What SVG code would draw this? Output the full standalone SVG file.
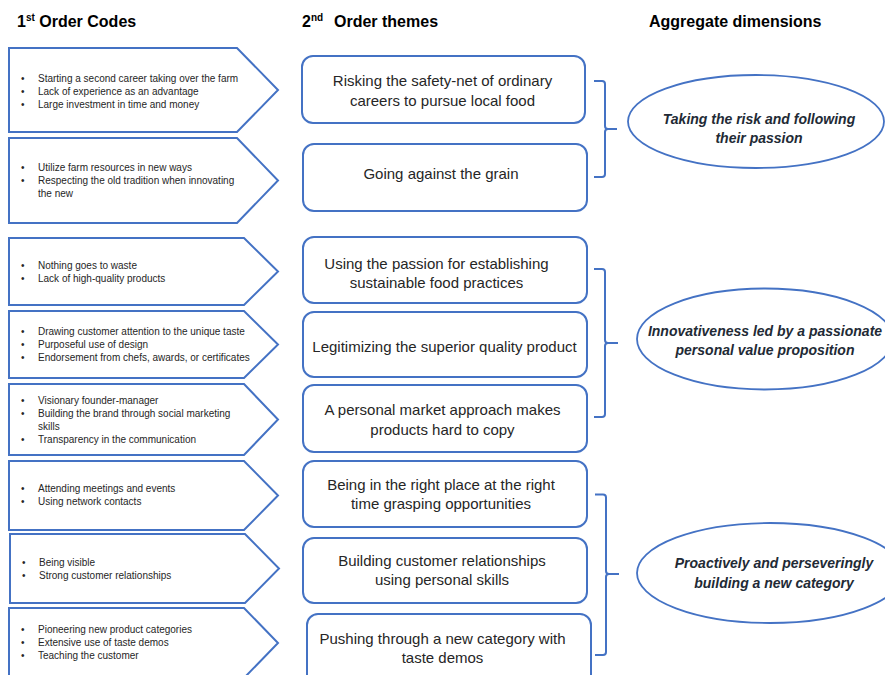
<svg xmlns="http://www.w3.org/2000/svg" width="885" height="675" viewBox="0 0 885 675">
<style>
.hdr{font-family:"Liberation Sans",Arial,sans-serif;font-weight:bold;font-size:16px;fill:#000}
.sup{font-size:10px}
.pent{fill:#fff;stroke:#4472C4;stroke-width:2}
.code{font-family:"Liberation Sans",Arial,sans-serif;font-size:10px;fill:#262626}
.box{fill:#fff;stroke:#4472C4;stroke-width:2}
.theme{font-family:"Liberation Sans",Arial,sans-serif;font-size:15px;fill:#262626;text-anchor:middle}
.ell{fill:#fff;stroke:#4472C4;stroke-width:1.8}
.dim{font-family:"Liberation Sans",Arial,sans-serif;font-size:14px;font-weight:bold;font-style:italic;fill:#222a35;text-anchor:middle}
.br{fill:none;stroke:#4472C4;stroke-width:2}
</style>
<rect width="885" height="675" fill="#fff"/>
<g id="headers">
<text class="hdr" x="17" y="27">1<tspan class="sup" dy="-6">st</tspan><tspan dy="6"> Order Codes</tspan></text>
<text class="hdr" x="302" y="27">2<tspan class="sup" dy="-6">nd</tspan><tspan x="334" dy="6">Order themes</tspan></text>
<text class="hdr" x="649" y="27">Aggregate dimensions</text>
</g>
<g id="code1">
<path class="pent" d="M9,48 H237 L278,90 L237,132 H9 Z"/>
<text class="code"><tspan x="21" y="82">•</tspan><tspan x="38" y="82">Starting a second career taking over the farm</tspan><tspan x="21" y="95">•</tspan><tspan x="38" y="95">Lack of experience as an advantage</tspan><tspan x="21" y="108">•</tspan><tspan x="38" y="108">Large investment in time and money</tspan></text>
</g>
<g id="code2">
<path class="pent" d="M9,138 H237 L278,180.5 L237,223 H9 Z"/>
<text class="code"><tspan x="21" y="171">•</tspan><tspan x="38" y="171">Utilize farm resources in new ways</tspan><tspan x="21" y="184">•</tspan><tspan x="38" y="184">Respecting the old tradition when innovating</tspan><tspan x="38" y="197">the new</tspan></text>
</g>
<g id="code3">
<path class="pent" d="M9,238 H244 L278,271.5 L244,305 H9 Z"/>
<text class="code"><tspan x="21" y="269">•</tspan><tspan x="38" y="269">Nothing goes to waste</tspan><tspan x="21" y="282">•</tspan><tspan x="38" y="282">Lack of high-quality products</tspan></text>
</g>
<g id="code4">
<path class="pent" d="M9,311 H244 L278,344.5 L244,378 H9 Z"/>
<text class="code"><tspan x="21" y="334.5">•</tspan><tspan x="38" y="334.5">Drawing customer attention to the unique taste</tspan><tspan x="21" y="347.5">•</tspan><tspan x="38" y="347.5">Purposeful use of design</tspan><tspan x="21" y="360.5">•</tspan><tspan x="38" y="360.5">Endorsement from chefs, awards, or certificates</tspan></text>
</g>
<g id="code5">
<path class="pent" d="M9,384 H244 L278,419.5 L244,455 H9 Z"/>
<text class="code"><tspan x="21" y="404">•</tspan><tspan x="38" y="404">Visionary founder-manager</tspan><tspan x="21" y="417">•</tspan><tspan x="38" y="417">Building the brand through social marketing</tspan><tspan x="38" y="430">skills</tspan><tspan x="21" y="443">•</tspan><tspan x="38" y="443">Transparency in the communication</tspan></text>
</g>
<g id="code6">
<path class="pent" d="M9,461 H244 L278,495.5 L244,530 H9 Z"/>
<text class="code"><tspan x="21" y="492">•</tspan><tspan x="38" y="492">Attending meetings and events</tspan><tspan x="21" y="505">•</tspan><tspan x="38" y="505">Using network contacts</tspan></text>
</g>
<g id="code7">
<path class="pent" d="M10,534 H245 L279,568.5 L245,603 H10 Z"/>
<text class="code"><tspan x="22" y="566">•</tspan><tspan x="39" y="566">Being visible</tspan><tspan x="22" y="579">•</tspan><tspan x="39" y="579">Strong customer relationships</tspan></text>
</g>
<g id="code8">
<path class="pent" d="M9,608 H244 L278,643 L244,678 H9 Z"/>
<text class="code"><tspan x="21" y="632.5">•</tspan><tspan x="38" y="632.5">Pioneering new product categories</tspan><tspan x="21" y="645.5">•</tspan><tspan x="38" y="645.5">Extensive use of taste demos</tspan><tspan x="21" y="658.5">•</tspan><tspan x="38" y="658.5">Teaching the customer</tspan></text>
</g>
<g id="theme1">
<rect class="box" x="302" y="56" width="283" height="67" rx="11"/>
<text class="theme"><tspan x="442.5" y="86">Risking the safety-net of ordinary</tspan><tspan x="442.5" y="105.5">careers to pursue local food</tspan></text>
</g>
<g id="theme2">
<rect class="box" x="303" y="144" width="284" height="67" rx="11"/>
<text class="theme"><tspan x="441" y="179">Going against the grain</tspan></text>
</g>
<g id="theme3">
<rect class="box" x="303" y="237" width="284" height="66" rx="11"/>
<text class="theme"><tspan x="436.5" y="268.5">Using the passion for establishing</tspan><tspan x="436.5" y="287.5">sustainable food practices</tspan></text>
</g>
<g id="theme4">
<rect class="box" x="303" y="312" width="284" height="65" rx="11"/>
<text class="theme"><tspan x="444.5" y="352">Legitimizing the superior quality product</tspan></text>
</g>
<g id="theme5">
<rect class="box" x="303" y="385" width="284" height="67" rx="11"/>
<text class="theme"><tspan x="442.5" y="415">A personal market approach makes</tspan><tspan x="442.5" y="435">products hard to copy</tspan></text>
</g>
<g id="theme6">
<rect class="box" x="303" y="461" width="284" height="66" rx="11"/>
<text class="theme"><tspan x="441" y="490">Being in the right place at the right</tspan><tspan x="441" y="509">time grasping opportunities</tspan></text>
</g>
<g id="theme7">
<rect class="box" x="303" y="538" width="284" height="65" rx="11"/>
<text class="theme"><tspan x="442" y="566">Building customer relationships</tspan><tspan x="442" y="585">using personal skills</tspan></text>
</g>
<g id="theme8">
<rect class="box" x="307" y="614" width="284" height="75" rx="11"/>
<text class="theme"><tspan x="442.5" y="643.5">Pushing through a new category with</tspan><tspan x="442.5" y="662.5">taste demos</tspan></text>
</g>
<g id="connectors">
<path class="br" d="M594,81 H602 Q605,81 605,84 V126 Q605,129 608,129 H617 M608,129 Q605,129 605,132 V174 Q605,177 602,177 H594"/>
<path class="br" d="M594,269 H602 Q605,269 605,272 V340 Q605,343 608,343 H618 M608,343 Q605,343 605,346 V414 Q605,417 602,417 H594"/>
<path class="br" d="M595,494.5 H603 Q606,494.5 606,497.5 V571 Q606,574 609,574 H619 M609,574 Q606,574 606,577 V652 Q606,655 603,655 H595"/>
</g>
<g id="dim1">
<ellipse class="ell" cx="756" cy="121.5" rx="128" ry="46.5"/>
<text class="dim"><tspan x="759" y="124">Taking the risk and following</tspan><tspan x="759" y="143">their passion</tspan></text>
</g>
<g id="dim2">
<ellipse class="ell" cx="765" cy="339" rx="128" ry="50.5"/>
<text class="dim"><tspan x="765" y="335.5">Innovativeness led by a passionate</tspan><tspan x="765" y="355">personal value proposition</tspan></text>
</g>
<g id="dim3">
<ellipse class="ell" cx="770" cy="573" rx="133" ry="50"/>
<text class="dim"><tspan x="774" y="568">Proactively and perseveringly</tspan><tspan x="774" y="587.5">building a new category</tspan></text>
</g>
</svg>
